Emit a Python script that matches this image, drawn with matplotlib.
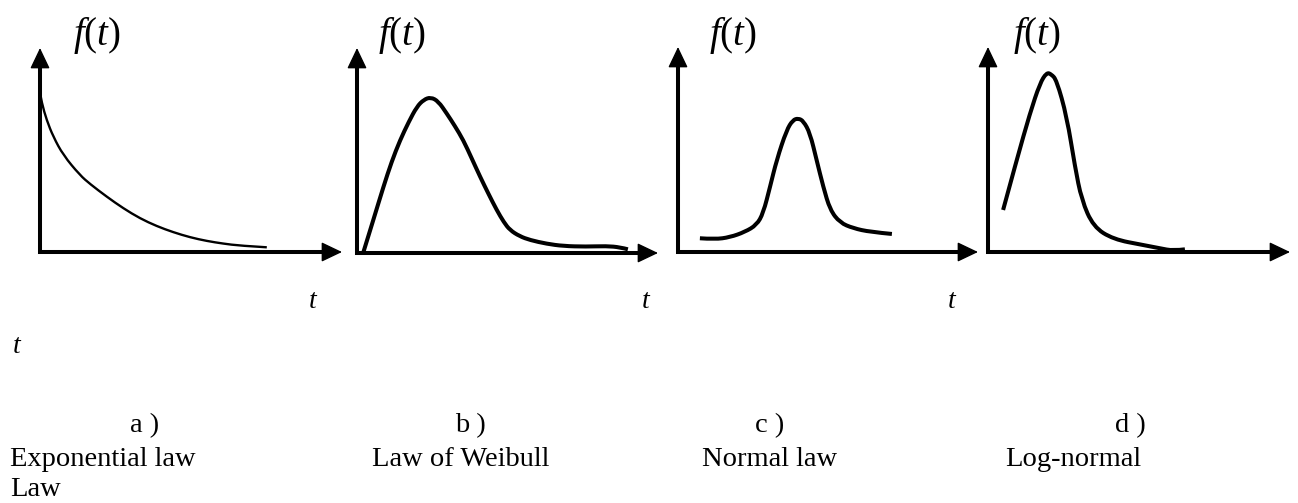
import matplotlib
matplotlib.use("Agg")
import matplotlib.pyplot as plt
from matplotlib.path import Path
from matplotlib.patches import PathPatch

plt.rcParams.update({
    "font.family": "Liberation Serif",
    "mathtext.fontset": "custom",
    "mathtext.rm": "Liberation Serif",
    "mathtext.it": "Liberation Serif:italic",
})

W, H = 1298, 503

# curve points (t, f(t)) in panel units, axes run 0..10
exp_t = [0.0, 0.06, 0.22, 0.44, 0.77, 1.32, 1.66, 2.21, 2.76, 3.31, 3.86, 4.41,
         4.97, 5.52, 6.07, 6.62, 7.51]
exp_f = [7.80, 7.30, 6.47, 5.65, 4.75, 3.77, 3.33, 2.71, 2.14, 1.65, 1.27, 0.97,
         0.72, 0.54, 0.41, 0.31, 0.23]

weib_t = [0.21, 0.55, 0.88, 1.15, 1.43, 1.72, 1.99, 2.22, 2.45, 2.70, 2.98, 3.25,
          3.53, 3.81, 4.09, 4.37, 4.64, 4.88, 5.08, 5.40, 5.75, 6.30, 6.85, 7.60,
          8.29, 8.74, 9.00]
weib_f = [0.03, 1.65, 3.24, 4.45, 5.50, 6.40, 7.14, 7.48, 7.60, 7.40, 6.81, 6.20,
          5.51, 4.62, 3.72, 2.88, 2.10, 1.50, 1.12, 0.82, 0.63, 0.45, 0.34, 0.31,
          0.34, 0.28, 0.18]

norm_t = [0.73, 1.23, 1.73, 2.23, 2.62, 2.84, 3.07, 3.29, 3.62, 3.83, 4.01, 4.18,
          4.40, 4.62, 4.84, 5.07, 5.40, 5.84, 6.40, 7.13]
norm_f = [0.67, 0.62, 0.72, 0.98, 1.32, 1.89, 3.19, 4.49, 5.95, 6.44, 6.52, 6.39,
          5.80, 4.49, 3.19, 2.05, 1.43, 1.16, 0.98, 0.88]

logn_t = [0.50, 0.95, 1.39, 1.72, 1.94, 2.09, 2.27, 2.61, 2.88, 3.10, 3.49, 4.15,
          5.14, 5.70, 6.13, 6.52]
logn_f = [2.05, 4.49, 6.77, 8.23, 8.75, 8.68, 8.39, 6.60, 4.16, 2.54, 1.23, 0.62,
          0.34, 0.18, 0.06, 0.13]

letters = ["a )", "b )", "c )", "d )"]
law_names = ["Exponential law", "Law of Weibull", "Normal law", "Log-normal"]

# panel frames in pixels: origin x, origin y, x arrow tip, y arrow tip
frames = [(40, 252, 342, 48), (357, 253, 658, 48),
          (678, 252, 978, 47), (988, 252, 1290, 47)]
curves = [(exp_t, exp_f, 1.7), (weib_t, weib_f, 2.9),
          (norm_t, norm_f, 2.9), (logn_t, logn_f, 2.9)]
ft_x = [97, 402, 733, 1037]
letter_x = [130, 455, 755, 1115]
name_x = [10, 372, 702, 1005]
t_pos = [(313, 308), (646, 308), (952, 308), (17, 353)]


def fx(px):
    return px / W


def fy(py):
    return 1 - py / H


def smooth_path(t, f):
    # quadratic beziers with the read points as control points
    pts = list(zip(t, f))
    verts = [pts[0]]
    codes = [Path.MOVETO]
    for i in range(1, len(pts) - 1):
        nxt = pts[i + 1]
        mid = ((pts[i][0] + nxt[0]) / 2, (pts[i][1] + nxt[1]) / 2)
        if i == len(pts) - 2:
            mid = nxt
        verts += [pts[i], mid]
        codes += [Path.CURVE3, Path.CURVE3]
    return Path(verts, codes)


fig = plt.figure(figsize=(W / 100, H / 100), dpi=100)

head = dict(arrowstyle="-|>,head_length=1.3,head_width=0.62", mutation_scale=10,
            color="k", lw=1, shrinkA=0, shrinkB=0)
for (x0, y0, xt, yt), (t, f, lw) in zip(frames, curves):
    ax = fig.add_axes([fx(x0), fy(y0), (xt - x0) / W, (y0 - yt) / H])
    ax.set_xlim(0, 10)
    ax.set_ylim(0, 10)
    ax.axis("off")
    ax.plot([0, 0, 9.55], [9.4, 0, 0], color="k", lw=2.9,
            solid_joinstyle="miter", solid_capstyle="butt", clip_on=False)
    ax.annotate("", xy=(10, 0), xytext=(9.4, 0), arrowprops=head,
                annotation_clip=False)
    ax.annotate("", xy=(0, 10), xytext=(0, 9.2), arrowprops=head,
                annotation_clip=False)
    ax.add_patch(PathPatch(smooth_path(t, f), fill=False, ec="k", lw=lw,
                           capstyle="butt", joinstyle="round", clip_on=False))

for x in ft_x:
    fig.text(fx(x), fy(36), r"$f(t)$", fontsize=28, ha="center", va="center")

for x, y in t_pos:
    fig.text(fx(x), fy(y), "t", fontsize=20, style="italic",
             ha="center", va="baseline")

for x, s in zip(letter_x, letters):
    fig.text(fx(x), fy(432), s, fontsize=20.5, ha="left", va="baseline")
for x, s in zip(name_x, law_names):
    fig.text(fx(x), fy(466), s, fontsize=20.5, ha="left", va="baseline")
fig.text(fx(10), fy(496), "Law", fontsize=20.5, ha="left", va="baseline")

fig.savefig("out.png", dpi=100)
